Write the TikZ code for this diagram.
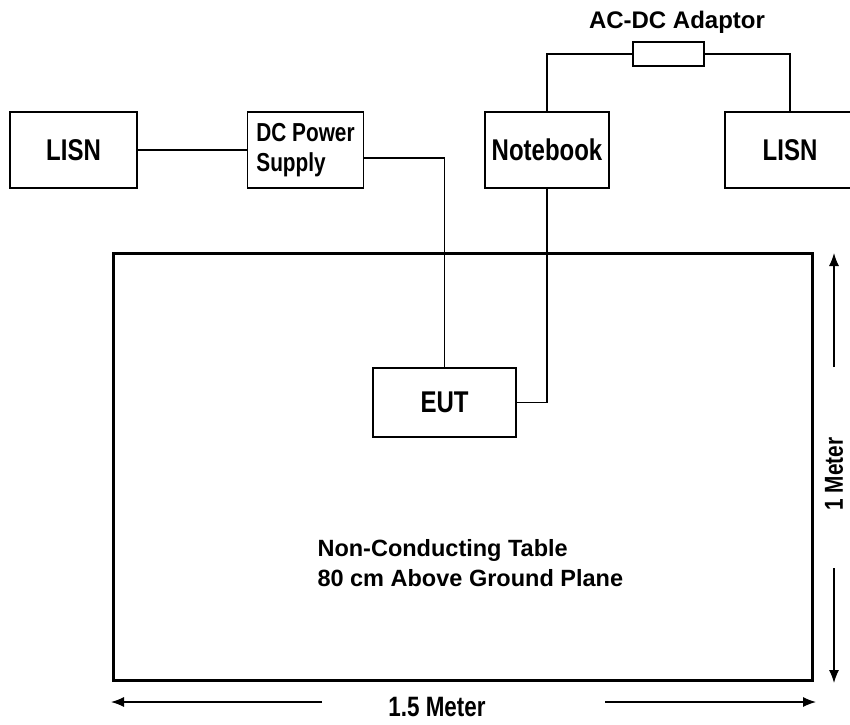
\documentclass[tikz,border=0pt]{standalone}
\usepackage{fontspec}
\setmainfont{Liberation Sans}
\newfontfamily\narrowfont{Liberation Sans}[FakeStretch=0.8]
\usepackage{tikz}
\usetikzlibrary{arrows.meta, positioning, calc}

\begin{document}
\begin{tikzpicture}[x=1pt, y=-1pt, >={Latex[length=13pt, width=10pt]},
		font=\bfseries,
		unit/.style={draw, line width=1.4pt, inner sep=0pt, align=center},
		wire/.style={line width=1.3pt},
		dimline/.style={line width=1.2pt}]
				\useasboundingbox (0,0) rectangle (850,724);
				
				\node[unit, minimum width=127pt, minimum height=76pt, font=\narrowfont\bfseries\fontsize{30}{34}\selectfont] (lisnL) at (73.5,150) {LISN};
				\node[unit, minimum width=116pt, minimum height=76pt, align=left, font=\narrowfont\bfseries\fontsize{26}{30}\selectfont] (dcps) at (305.5,150) {DC Power\\Supply};
				\node[unit, minimum width=124pt, minimum height=76pt, font=\narrowfont\bfseries\fontsize{30}{34}\selectfont] (nb) at (547,150) {Notebook};
				\node[unit, minimum width=130pt, minimum height=76pt, font=\narrowfont\bfseries\fontsize{30}{34}\selectfont] (lisnR) at (790,150) {LISN};
				\node[unit, minimum width=71pt, minimum height=24pt] (adapt) at (668.5,54) {};
				\node[font=\bfseries\fontsize{24}{28}\selectfont] (adaptlbl) at (677,22) {AC-DC Adaptor};
				
				\node[draw, line width=3pt, minimum width=699pt, minimum height=427pt] (tbl) at (462.5,466.5) {};
				\node[unit, minimum width=143pt, minimum height=69pt, font=\narrowfont\bfseries\fontsize{30}{34}\selectfont] (eut) at (444.5,402.5) {EUT};
				\node[anchor=west, align=left, font=\bfseries\fontsize{23.5}{30}\selectfont] (tbllbl) at (314,563) {Non-Conducting Table\\80 cm Above Ground Plane};
				
				\draw[wire] (lisnL.east) -- (dcps.west);
				\draw[wire] ([yshift=-8pt]dcps.east) -| (eut.north);
				\draw[wire] (nb.south) |- (eut.east);
				\draw[wire] (nb.north) |- (adapt.west);
				\draw[wire] (adapt.east) -| (lisnR.north);
				
				\node[rotate=90, font=\narrowfont\bfseries\fontsize{26}{30}\selectfont] (hgt) at (834,474) {1 Meter};
				\coordinate (htop) at (834,253);
				\coordinate (hbot) at (834,683);
				\draw[dimline, ->] (834,367) -- (htop);
				\draw[dimline, ->] (834,568) -- (hbot);
				
				\node[font=\narrowfont\bfseries\fontsize{28}{32}\selectfont] (wdt) at (437,707) {1.5 Meter};
				\coordinate (wleft) at (111,702);
				\coordinate (wright) at (816,702);
				\draw[dimline, ->] (322,702) -- (wleft);
				\draw[dimline, ->] (605,702) -- (wright);
			\end{tikzpicture}
\end{document}
